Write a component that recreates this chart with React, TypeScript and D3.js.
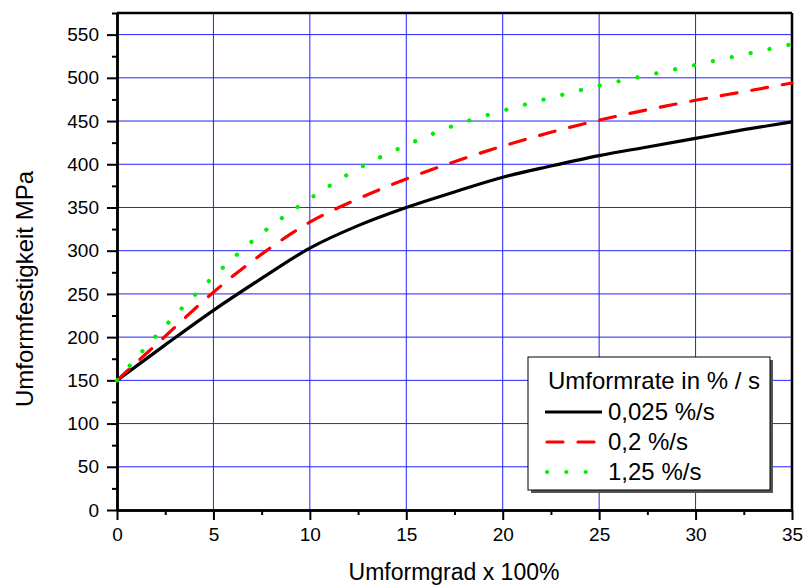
import { useEffect, useRef } from "react";
import * as d3 from "d3";

const W = 804;
const H = 587;
const margin = { top: 13, right: 12, bottom: 77, left: 117 };
const innerW = W - margin.left - margin.right;
const innerH = H - margin.top - margin.bottom;

const strain = [0, 2.5, 5, 7.5, 10, 12.5, 15, 17.5, 20, 22.5, 25, 27.5, 30, 32.5, 35];
const slowRate = [150, 191, 231, 268, 303, 329, 350, 368, 385, 398, 410, 420, 430, 440, 449];
const midRate = [150, 201, 252, 296, 333, 360, 383, 403, 421, 437, 451, 463, 474, 484, 494];
const fastRate = [150, 213, 270, 320, 360, 395, 422, 445, 462, 477, 491, 503, 515, 527, 539];

const xTicks = [0, 5, 10, 15, 20, 25, 30, 35];
const yTicks = [0, 50, 100, 150, 200, 250, 300, 350, 400, 450, 500, 550];

const series = [
  { label: "0,025 %/s", values: slowRate, color: "#000000", dash: null, width: 3.2, cap: "butt" },
  { label: "0,2 %/s", values: midRate, color: "#ff0000", dash: "16,15", width: 3.2, cap: "round" },
  { label: "1,25 %/s", values: fastRate, color: "#00ee00", dash: "0.1,19.2", width: 4.2, cap: "round" },
];

const font = "Arial, 'Liberation Sans', Helvetica, sans-serif";

export default function App() {
  const ref = useRef<SVGSVGElement>(null);

  useEffect(() => {
    const svg = d3.select(ref.current);
    svg.selectAll("*").remove();

    const x = d3.scaleLinear().domain([0, 35]).range([0, innerW]);
    const y = d3.scaleLinear().domain([0, 575]).range([innerH, 0]);

    const g = svg.append("g").attr("transform", `translate(${margin.left},${margin.top})`);

    // grid
    g.selectAll(".gx")
      .data(xTicks.slice(1, -1))
      .join("line")
      .attr("x1", (d) => x(d))
      .attr("x2", (d) => x(d))
      .attr("y1", 0)
      .attr("y2", innerH)
      .attr("stroke", "#2020ff")
      .attr("stroke-width", 1);
    g.selectAll(".gy")
      .data(yTicks.slice(1))
      .join("line")
      .attr("x1", 0)
      .attr("x2", innerW)
      .attr("y1", (d) => y(d))
      .attr("y2", (d) => y(d))
      .attr("stroke", "#2020ff")
      .attr("stroke-width", 1);

    // axes
    const xAxis = g
      .append("g")
      .attr("transform", `translate(0,${innerH})`)
      .call(d3.axisBottom(x).tickValues(xTicks).tickSize(10).tickPadding(8).tickSizeOuter(0));
    g.append("g")
      .attr("transform", `translate(0,${innerH})`)
      .call(d3.axisBottom(x).tickValues(d3.range(2.5, 35, 5)).tickSize(5).tickFormat(() => "").tickSizeOuter(0));
    const yAxis = g
      .append("g")
      .call(d3.axisLeft(y).tickValues(yTicks).tickSize(10).tickPadding(8).tickSizeOuter(0));
    g.append("g").call(
      d3.axisLeft(y).tickValues(d3.range(25, 576, 50)).tickSize(5).tickFormat(() => "").tickSizeOuter(0)
    );

    g.selectAll(".domain").attr("stroke", "#000").attr("stroke-width", 2.5);
    g.selectAll(".tick line").attr("stroke", "#000").attr("stroke-width", 2);
    [xAxis, yAxis].forEach((a) =>
      a.selectAll("text").attr("font-family", font).attr("font-size", 19).attr("fill", "#000")
    );

    // frame top/right
    g.append("line").attr("x1", 0).attr("x2", innerW).attr("y1", 0).attr("y2", 0).attr("stroke", "#000").attr("stroke-width", 2.5);
    g.append("line").attr("x1", innerW).attr("x2", innerW).attr("y1", 0).attr("y2", innerH).attr("stroke", "#000").attr("stroke-width", 2.5);

    // curves
    const line = d3
      .line<number>()
      .x((_, i) => x(strain[i]))
      .y((d) => y(d))
      .curve(d3.curveMonotoneX);

    series.forEach((s) => {
      g.append("path")
        .attr("d", line(s.values))
        .attr("fill", "none")
        .attr("stroke", s.color)
        .attr("stroke-width", s.width)
        .attr("stroke-linecap", s.cap)
        .attr("stroke-dasharray", s.dash);
    });

    // legend
    const lg = svg.append("g").attr("transform", "translate(528,357)");
    lg.append("rect").attr("x", 3).attr("y", 3).attr("width", 242).attr("height", 133).attr("fill", "#555");
    lg.append("rect").attr("x", 0).attr("y", 0).attr("width", 242).attr("height", 133).attr("fill", "#fff").attr("stroke", "#000").attr("stroke-width", 1);
    lg.append("text")
      .attr("x", 20)
      .attr("y", 32)
      .attr("font-family", font)
      .attr("font-size", 24)
      .text("Umformrate in % / s");
    series.forEach((s, i) => {
      const yy = 55 + i * 30;
      lg.append("line")
        .attr("x1", i === 0 ? 17 : 19)
        .attr("x2", i === 0 ? 74 : 72)
        .attr("y1", yy)
        .attr("y2", yy)
        .attr("stroke", s.color)
        .attr("stroke-width", s.width)
        .attr("stroke-linecap", s.cap)
        .attr("stroke-dasharray", s.dash);
      lg.append("text")
        .attr("x", 80)
        .attr("y", yy + 8)
        .attr("font-family", font)
        .attr("font-size", 24)
        .text(s.label);
    });

    // axis titles
    svg
      .append("text")
      .attr("x", 454)
      .attr("y", 580)
      .attr("text-anchor", "middle")
      .attr("font-family", font)
      .attr("font-size", 23)
      .text("Umformgrad x 100%");
    svg
      .append("text")
      .attr("transform", "translate(33,289) rotate(-90)")
      .attr("text-anchor", "middle")
      .attr("font-family", font)
      .attr("font-size", 24)
      .text("Umformfestigkeit MPa");
  }, []);

  return (
    <svg
      ref={ref}
      width={W}
      height={H}
      style={{ position: "absolute", left: 0, top: 0, background: "#fff" }}
    />
  );
}
